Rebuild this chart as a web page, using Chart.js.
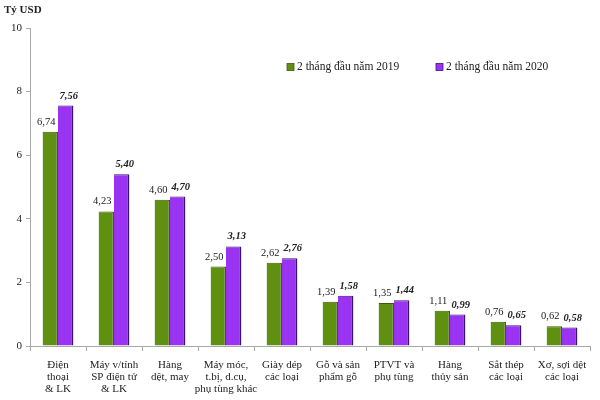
<!DOCTYPE html>
<html>
<head>
<meta charset="utf-8">
<script src="https://cdn.jsdelivr.net/npm/chart.js@4"></script>
<style>
html,body{margin:0;padding:0;background:#fff;}
#wrap{width:600px;height:400px;position:relative;}
</style>
</head>
<body>
<div id="wrap"><canvas id="c" width="600" height="400"></canvas></div>
<script>
const categories = [
  ["Điện", "thoại", "& LK"],
  ["Máy v/tính", "SP điện tử", "& LK"],
  ["Hàng", "dệt, may"],
  ["Máy móc,", "t.bị, d.cụ,", "phụ tùng khác"],
  ["Giày dép", "các loại"],
  ["Gỗ và sản", "phẩm gỗ"],
  ["PTVT và", "phụ tùng"],
  ["Hàng", "thủy sản"],
  ["Sắt thép", "các loại"],
  ["Xơ, sợi dệt", "các loại"]
];
const values2019 = [6.74, 4.23, 4.60, 2.50, 2.62, 1.39, 1.35, 1.11, 0.76, 0.62];
const values2020 = [7.56, 5.40, 4.70, 3.13, 2.76, 1.58, 1.44, 0.99, 0.65, 0.58];
const seriesLabels = ["2 tháng đầu năm 2019", "2 tháng đầu năm 2020"];
const yTicks = [0, 2, 4, 6, 8, 10];
const yTitle = "Tỷ USD";

const FONT = "'Liberation Serif', 'Times New Roman', serif";

const extras = {
  id: 'extras',
  afterDatasetsDraw(chart) {
    const ctx = chart.ctx;
    ctx.save();
    chart.data.datasets.forEach((ds, di) => {
      const meta = chart.getDatasetMeta(di);
      meta.data.forEach((bar, i) => {
        const txt = ds.data[i].toFixed(2).replace('.', ',');
        ctx.font = (di === 1 ? 'italic bold ' : '') + '10.5px ' + FONT;
        ctx.fillStyle = '#222';
        ctx.textAlign = 'center';
        ctx.textBaseline = 'alphabetic';
        ctx.fillText(txt, bar.x + (di === 0 ? -4 : 3), bar.y - 7);
      });
    });
    // y title
    ctx.font = 'bold 11px ' + FONT;
    ctx.fillStyle = '#222';
    ctx.textAlign = 'left';
    ctx.textBaseline = 'middle';
    ctx.fillText(yTitle, 4, 10);
    // legend
    const lx = [287, 436];
    chart.data.datasets.forEach((ds, di) => {
      const x = lx[di], y = 67;
      ctx.fillStyle = ds.backgroundColor;
      ctx.fillRect(x, y - 3.5, 7, 7);
      ctx.strokeStyle = ds.borderColor;
      ctx.lineWidth = 0.8;
      ctx.strokeRect(x, y - 3.5, 7, 7);
      ctx.font = '11.5px ' + FONT;
      ctx.fillStyle = '#222';
      ctx.textAlign = 'left';
      ctx.textBaseline = 'middle';
      ctx.fillText(ds.label, x + 10, y);
    });
    ctx.restore();
  }
};

new Chart(document.getElementById('c'), {
  type: 'bar',
  data: {
    labels: categories,
    datasets: [
      { label: seriesLabels[0], data: values2019, backgroundColor: '#5f9012', borderColor: '#3c5c08', borderWidth: {left:0, top:1, right:1.5, bottom:0}, borderSkipped: false },
      { label: seriesLabels[1], data: values2020, backgroundColor: '#9a33f2', borderColor: '#3a1470', borderWidth: {left:0, top:1, right:1.5, bottom:0}, borderSkipped: false }
    ]
  },
  options: {
    responsive: false,
    animation: false,
    devicePixelRatio: 1,
    layout: { padding: { top: 28, right: 10, left: 0, bottom: 0 } },
    datasets: { bar: { categoryPercentage: 0.55, barPercentage: 1.0 } },
    plugins: { legend: { display: false }, tooltip: { enabled: false }, title: { display: false } },
    scales: {
      x: {
        grid: { display: true, drawOnChartArea: false, offset: true, tickLength: 5, color: '#a8a8a8' },
        border: { color: '#a8a8a8', width: 1 },
        ticks: { color: '#222', font: { family: FONT, size: 11, lineHeight: 1.1 }, maxRotation: 0, autoSkip: false, padding: 8 },
        afterFit(s) { s.height = 54; }
      },
      y: {
        min: 0, max: 10,
        afterBuildTicks(s) { s.ticks = yTicks.map(v => ({ value: v })); },
        grid: { display: true, drawOnChartArea: false, tickLength: 4, color: '#a8a8a8' },
        border: { color: '#a8a8a8', width: 1 },
        ticks: { color: '#222', font: { family: FONT, size: 11 }, padding: 4 },
        afterFit(s) { s.width = 30; }
      }
    }
  },
  plugins: [extras]
});
</script>
</body>
</html>
